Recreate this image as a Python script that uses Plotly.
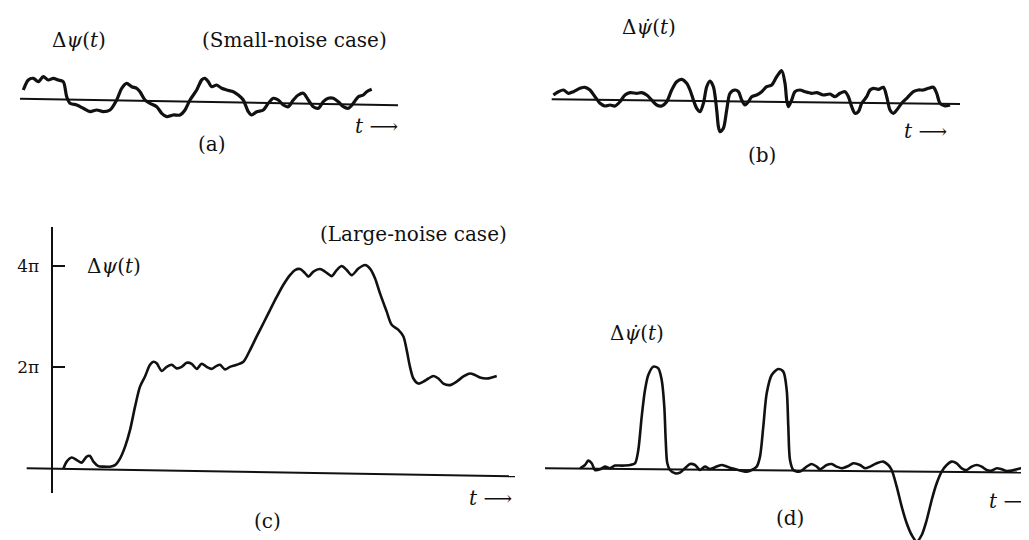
import plotly.graph_objects as go

# ---------------- data ----------------
# (a) small-noise phase error  (t units, amplitude units)
a_t = [0.33, 0.83, 1.33, 1.83, 2.33, 2.83, 3.33, 3.83, 4.33, 4.67, 5.0, 5.67, 6.33, 7.0, 7.67, 8.33, 9.0,
       9.67, 10.17, 10.67, 11.17, 11.67, 12.0, 12.5, 13.0, 13.67, 14.17, 14.67, 15.33, 16.0, 16.5, 17.0,
       17.67, 18.17, 18.5, 18.83, 19.17, 19.67, 20.17, 20.67, 21.33, 21.83, 22.33, 22.83, 23.17, 23.67,
       24.33, 24.83, 25.33, 25.83, 26.33, 26.83, 27.33, 27.83, 28.33, 28.83, 29.33, 29.83, 30.33, 30.83,
       31.33, 31.83, 32.33, 32.83, 33.33, 33.83, 34.33, 34.67, 35.17]
a_v = [1.0, 2.0, 2.17, 1.83, 2.33, 2.0, 2.17, 2.0, 1.83, 0.33, -0.33, -0.5, -0.83, -1.17, -1.0, -1.17, -1.0,
       0.0, 1.17, 1.67, 1.33, 1.17, 0.83, 0.0, -0.33, -0.67, -1.33, -1.67, -1.5, -1.5, -1.0, 0.0,
       1.0, 2.0, 2.17, 1.83, 1.33, 1.5, 1.17, 1.0, 0.83, 0.5, 0.0, -1.17, -1.5, -1.17,
       -1.0, -0.33, 0.17, 0.0, -0.5, -0.67, 0.0, 0.5, 0.67, 0.0, -0.67, -0.83, -0.17, 0.17,
       0.17, -0.17, -0.67, -0.83, -0.33, 0.33, 0.5, 0.83, 1.07]
a_base_t = [0.0, 37.8]
a_base_v = [0.13, -0.53]

# (b) small-noise frequency error
b_t = [0.17, 0.67, 1.17, 1.67, 2.17, 2.83, 3.33, 3.83, 4.33, 4.83, 5.33, 5.83, 6.33, 6.83, 7.33, 7.83,
       8.5, 9.0, 9.5, 10.0, 10.5, 11.0, 11.5, 12.0, 12.5, 13.0, 13.5, 13.83, 14.17, 14.5, 14.83, 15.17,
       15.5, 15.83, 16.17, 16.5, 16.67, 16.83, 17.17, 17.5, 17.83, 18.33, 18.67, 19.0, 19.33, 19.67,
       20.0, 20.5, 21.0, 21.5, 22.0, 22.5, 23.0, 23.33, 23.5, 23.67, 24.0, 24.33, 24.83, 25.33, 26.0,
       26.5, 27.17, 27.83, 28.33, 28.83, 29.33, 29.67, 30.0, 30.33, 30.67, 31.0, 31.5, 31.83, 32.17,
       32.67, 33.17, 33.5, 33.83, 34.17, 34.5, 35.0, 35.5, 36.17, 36.67, 37.17, 37.67, 38.17, 38.5,
       38.83, 39.33, 39.83]
b_v = [0.5, 0.83, 1.0, 0.67, 0.83, 1.17, 1.27, 1.0, 0.33, -0.33, -0.6, -0.5, -0.6, -0.17, 0.5, 0.73,
       0.67, 0.73, 0.5, 0.0, -0.5, -0.6, -0.17, 1.0, 1.83, 2.07, 1.67, 1.0, 0.0, -0.83, -1.17, -0.33,
       1.33, 1.9, 1.33, -1.0, -2.67, -3.17, -2.83, -1.0, 0.67, 1.0, 0.83, 0.0, -0.5, -0.17,
       0.33, 0.5, 0.83, 1.33, 1.5, 2.33, 2.93, 1.67, 0.0, -0.67, 0.0, 0.83, 1.0, 0.83, 0.67,
       0.73, 0.5, 0.6, 0.33, 0.67, 0.83, 0.33, -0.67, -1.33, -1.17, -0.33, 0.33, 1.0, 1.17,
       1.07, 1.27, 0.33, -1.0, -1.33, -1.0, -0.33, 0.17, 0.83, 1.0, 1.0, 1.17, 1.27, 0.67,
       -0.33, -0.6, -0.5]
b_base_t = [0.0, 40.83]
b_base_v = [0.07, -0.4]

# (c) large-noise phase error (vertical unit = pi)
c_t = [1.17, 1.5, 2.0, 2.5, 3.0, 3.5, 3.83, 4.17, 4.67, 5.17, 5.83, 6.33, 6.83, 7.33, 7.83, 8.33, 8.83,
       9.33, 9.83, 10.17, 10.5, 11.0, 11.5, 12.0, 12.5, 13.0, 13.5, 14.0, 14.5, 15.0, 15.5, 16.0, 16.5,
       16.83, 17.33, 17.83, 18.5, 19.17, 19.83, 20.5, 21.17, 21.83, 22.5, 23.17, 23.83, 24.33, 24.83,
       25.33, 25.67, 26.17, 26.83, 27.33, 28.0, 28.5, 29.0, 29.5, 30.0, 30.67, 31.33, 31.83, 32.33,
       32.83, 33.5, 34.0, 34.67, 35.17, 35.5, 35.83, 36.17, 36.67, 37.17, 37.67, 38.17, 38.67, 39.17,
       39.83, 40.5, 41.17, 41.83, 42.33, 42.83, 43.5, 44.0, 44.5]
c_v = [0.0, 0.14, 0.22, 0.17, 0.12, 0.24, 0.25, 0.14, 0.05, 0.04, 0.04, 0.07, 0.2, 0.43, 0.76, 1.22, 1.62,
       1.82, 2.05, 2.11, 2.08, 1.93, 2.01, 2.05, 1.98, 2.01, 2.09, 2.07, 1.97, 2.07, 2.01, 1.97, 2.03,
       2.05, 1.96, 2.01, 2.05, 2.11, 2.34, 2.61, 2.87, 3.13, 3.39, 3.63, 3.82, 3.92, 3.94,
       3.86, 3.79, 3.89, 3.94, 3.89, 3.8, 3.92, 4.0, 3.92, 3.82, 3.95, 4.02, 3.95, 3.76,
       3.46, 3.1, 2.84, 2.74, 2.61, 2.34, 2.01, 1.78, 1.68, 1.72, 1.78, 1.83, 1.78, 1.68,
       1.65, 1.72, 1.82, 1.88, 1.85, 1.8, 1.78, 1.8, 1.83]
c_base_t = [-2.5, 46.33]
c_base_v = [0.01, -0.15]
c_tick_vals = [2, 4]
c_tick_text = ["2π", "4π"]

# (d) large-noise frequency error (spikes)
d_t = [3.5, 4.0, 4.33, 4.67, 5.0, 5.5, 6.0, 6.5, 7.0, 7.67, 8.5, 9.0, 9.33, 9.67, 10.0, 10.33, 10.83,
       11.33, 11.67, 11.93, 12.07, 12.23, 12.5, 13.0, 13.5, 14.0, 14.5, 15.0, 15.5, 16.0, 16.5, 17.17,
       17.67, 18.17, 18.67, 19.33, 20.17, 20.67, 21.17, 21.5, 21.83, 22.17, 22.67, 23.33, 23.83, 24.17,
       24.33, 24.5, 24.83, 25.5, 26.17, 26.67, 27.17, 27.5, 28.17, 28.67, 29.17, 29.67, 30.33, 30.83,
       31.5, 32.0, 32.5, 33.17, 33.83, 34.33, 34.67, 35.17, 35.67, 36.17, 36.67, 37.17, 37.67, 38.17,
       38.67, 39.17, 39.67, 40.17, 40.67, 41.17, 41.67, 42.17, 42.67, 43.17, 43.67, 44.17, 44.67,
       45.17, 45.67, 46.17, 46.67, 47.17, 47.67, 48.17, 48.5]
d_v = [0.0, 0.33, 0.77, 0.5, -0.17, -0.1, 0.17, 0.0, 0.27, 0.27, 0.33, 0.5, 1.83, 5.17, 7.83, 9.33, 10.17,
       10.0, 8.83, 6.17, 2.83, 0.5, -0.17, -0.5, -0.43, 0.0, 0.43, 0.33, -0.17, 0.17, -0.07, 0.17,
       0.33, 0.17, 0.0, -0.17, -0.33, -0.17, 0.17, 1.17, 4.17, 7.5, 9.33, 9.93, 9.67, 7.83,
       4.17, 0.83, -0.17, -0.33, 0.17, 0.43, 0.17, -0.1, 0.33, 0.43, 0.17, 0.0, 0.23, 0.5,
       0.33, 0.0, 0.17, 0.5, 0.67, 0.33, -0.17, -1.83, -3.83, -5.5, -6.67, -7.33, -6.67, -5.17,
       -3.17, -1.5, -0.33, 0.33, 0.67, 0.5, 0.0, -0.17, 0.17, 0.33, 0.17, -0.17, -0.23,
       0.0, -0.1, -0.27, -0.23, -0.1, 0.0, -0.33, -0.57]
d_base_t = [0.0, 48.5]
d_base_v = [0.0, -0.43]

# ---------------- layout ----------------
W, H = 1029, 540
OFF = 8          # page body margin: the figure is drawn 8 px in from the window's corner
INK = "#111111"
SERIF = "DejaVu Serif, Liberation Serif, serif"

def px_x(px):
    return (px - OFF) / W

def px_y(py):
    return 1 - (py - OFF) / H

# box = (left, right, top, bottom) px in window ; origin px ; scale px per unit
PANELS = {
    "1": dict(box=(8, 520, 12, 180), origin=(20, 100), sx=10, sy=10),
    "2": dict(box=(520, 1029, 12, 180), origin=(551.7, 100), sx=10, sy=10),
    "3": dict(box=(8, 540, 227, 493), origin=(51.7, 468.7), sx=10, sy=50.67),
    "4": dict(box=(540, 1029, 280, 540), origin=(545, 468.3), sx=10, sy=10),
}

fig = go.Figure()

def add_panel(key, curve_t, curve_v, base_t, base_v, cw):
    xa = "x" if key == "1" else "x" + key
    ya = "y" if key == "1" else "y" + key
    fig.add_trace(go.Scatter(x=base_t, y=base_v, mode="lines", xaxis=xa, yaxis=ya,
                             line=dict(color=INK, width=2), hoverinfo="skip"))
    fig.add_trace(go.Scatter(x=curve_t, y=curve_v, mode="lines", xaxis=xa, yaxis=ya,
                             line=dict(color=INK, width=cw, shape="spline", smoothing=0.8),
                             hoverinfo="skip"))

add_panel("1", a_t, a_v, a_base_t, a_base_v, 3.2)
add_panel("2", b_t, b_v, b_base_t, b_base_v, 3.2)
add_panel("3", c_t, c_v, c_base_t, c_base_v, 2.6)
add_panel("4", d_t, d_v, d_base_t, d_base_v, 2.6)

layout = dict(width=W, height=H, margin=dict(l=0, r=0, t=0, b=0),
              paper_bgcolor="white", plot_bgcolor="rgba(0,0,0,0)", showlegend=False)

for key, p in PANELS.items():
    l, r, t, b = p["box"]
    ox, oy = p["origin"]
    xname = "xaxis" if key == "1" else "xaxis" + key
    yname = "yaxis" if key == "1" else "yaxis" + key
    xa = "x" if key == "1" else "x" + key
    ya = "y" if key == "1" else "y" + key
    layout[xname] = dict(domain=[px_x(l), px_x(r)], range=[(l - ox) / p["sx"], (r - ox) / p["sx"]],
                         visible=False, anchor=ya)
    layout[yname] = dict(domain=[px_y(b), px_y(t)], range=[(oy - b) / p["sy"], (oy - t) / p["sy"]],
                         visible=False, anchor=xa)

# vertical axis of panel (c), with 2π / 4π ticks
layout["yaxis3"].update(visible=True, anchor="free", position=px_x(PANELS["3"]["origin"][0]),
                        showline=True, linecolor=INK, linewidth=2, showgrid=False, zeroline=False,
                        ticks="inside", ticklen=12, tickwidth=2, tickcolor=INK,
                        tickvals=c_tick_vals, ticktext=c_tick_text, ticklabelstandoff=8,
                        tickfont=dict(family=SERIF, size=17, color=INK))
fig.update_layout(**layout)

def label(text, x, y, size=20, xanchor="left"):
    fig.add_annotation(text=text, x=px_x(x), y=px_y(y), xref="paper", yref="paper",
                       xanchor=xanchor, yanchor="middle", showarrow=False,
                       font=dict(family=SERIF, size=size, color=INK))

PSI = "Δ<i>ψ</i>(<i>t</i>)"
PSIDOT = "Δ<i>ψ̇</i>(<i>t</i>)"
ARROW = "<i>t</i> ⟶"

label(PSI, 50, 40)
label("(Small-noise case)", 200, 40)
label(ARROW, 353, 126)
label("(a)", 212, 144, xanchor="center")

label(PSIDOT, 620, 27)
label(ARROW, 902, 131)
label("(b)", 762, 155, xanchor="center")

label(PSI, 85, 266)
label("(Large-noise case)", 318, 234)
label(ARROW, 467, 498)
label("(c)", 267, 521, xanchor="center")

label(PSIDOT, 608, 333)
label(ARROW, 987, 501)
label("(d)", 790, 518, xanchor="center")

fig.write_html("out.html")
